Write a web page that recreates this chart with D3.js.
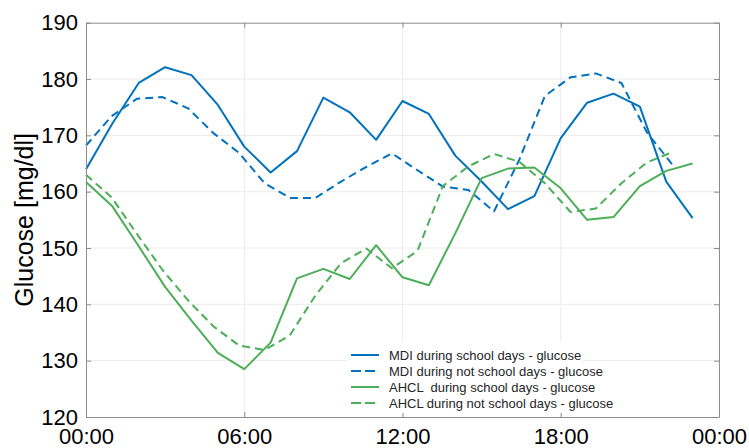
<!DOCTYPE html>
<html>
<head>
<meta charset="utf-8">
<script src="https://cdn.jsdelivr.net/npm/d3@7"></script>
<style>
    body { margin: 0; background: #fff; }
    svg { font-family: "Liberation Sans", Arial, Helvetica, sans-serif; }
</style>
</head>
<body>
<div id="chart"></div>
<script>
// hour of day for the school-day series
const hours = [0, 1, 2, 3, 4, 5, 6, 7, 8, 9, 10, 11, 12, 13, 14, 15, 16, 17, 18, 19, 20, 21, 22, 23];
// the not-school-day series are sampled a little tighter
const hoursNotSchool = [0, 0.97, 1.93, 2.9, 3.87, 4.83, 5.8, 6.77, 7.73, 8.7, 9.67, 10.63,
    11.6, 12.57, 13.53, 14.5, 15.47, 16.43, 17.4, 18.37, 19.33, 20.3, 21.27, 22.23];

const mdiSchool = [164.0, 172.1, 179.3, 182.1, 180.7, 175.4, 168.0, 163.4, 167.2, 176.7, 174.1, 169.2,
    176.1, 173.8, 166.4, 161.8, 156.9, 159.2, 169.5, 175.8, 177.4, 175.1, 161.8, 155.3];
const mdiNotSchool = [168.2, 173.4, 176.5, 176.8, 174.8, 170.4, 166.9, 161.5, 158.9, 158.9, 161.8, 164.4,
    166.8, 163.8, 160.9, 160.3, 156.5, 165.7, 177.0, 180.3, 181.0, 179.3, 170.5, 164.8];
const ahclSchool = [161.7, 157.4, 150.3, 143.1, 137.1, 131.4, 128.5, 133.2, 144.6, 146.3, 144.5, 150.5,
    144.8, 143.4, 152.6, 162.4, 164.1, 164.3, 160.6, 155.0, 155.5, 161.0, 163.7, 165.0];
const ahclNotSchool = [163.0, 159.0, 152.5, 146.1, 140.7, 136.1, 132.7, 131.9, 134.5, 141.6, 147.3, 149.9,
    146.4, 149.5, 161.0, 164.5, 166.7, 165.3, 161.5, 156.4, 157.0, 161.5, 165.2, 167.0];

const seriesNames = [
    "MDI during school days - glucose",
    "MDI during not school days - glucose",
    "AHCL  during school days - glucose",
    "AHCL during not school days - glucose"
];

const xTicks = [0, 6, 12, 18, 24];
const xTickLabels = ["00:00", "06:00", "12:00", "18:00", "00:00"];
const yTicks = [120, 130, 140, 150, 160, 170, 180, 190];
const yLabel = "Glucose [mg/dl]";

let width = 749, height = 448;
let margin = {top: 22.7, right: 30, bottom: 31, left: 86};
let blue = "#0072bd", green = "#4cae57";
let axisColor = "#8c8c8c", gridColor = "#ebebeb";

let series = [
    {name: seriesNames[0], t: hours, v: mdiSchool, color: blue, dash: null},
    {name: seriesNames[1], t: hoursNotSchool, v: mdiNotSchool, color: blue, dash: "8,5"},
    {name: seriesNames[2], t: hours, v: ahclSchool, color: green, dash: null},
    {name: seriesNames[3], t: hoursNotSchool, v: ahclNotSchool, color: green, dash: "8,5"}
];

let svg = d3.select("#chart").append("svg")
    .attr("width", width)
    .attr("height", height);

let x = d3.scaleLinear().domain([0, 24]).range([margin.left, width - margin.right]);
let y = d3.scaleLinear().domain([120, 190]).range([height - margin.bottom, margin.top]);

/* grid */
let grid = svg.append("g").attr("class", "grid");
grid.selectAll(".vgrid")
    .data(xTicks.slice(1, -1)).enter()
    .append("line")
    .attr("x1", d => x(d)).attr("x2", d => x(d))
    .attr("y1", y(120)).attr("y2", y(190))
    .attr("stroke", gridColor).attr("stroke-width", 1);
grid.selectAll(".hgrid")
    .data(yTicks.slice(1, -1)).enter()
    .append("line")
    .attr("x1", x(0)).attr("x2", x(24))
    .attr("y1", d => y(d)).attr("y2", d => y(d))
    .attr("stroke", gridColor).attr("stroke-width", 1);

/* lines */
let line = d3.line()
    .x(d => x(d[0]))
    .y(d => y(d[1]));

svg.append("g").attr("class", "lines")
    .selectAll("path")
    .data(series).enter()
    .append("path")
    .attr("d", s => line(s.t.map((t, i) => [t, s.v[i]])))
    .attr("fill", "none")
    .attr("stroke", s => s.color)
    .attr("stroke-width", 2)
    .attr("stroke-linejoin", "round")
    .attr("stroke-dasharray", s => s.dash);

/* axes: ticks point inward */
let styleAxis = g => {
    g.select(".domain").attr("stroke", axisColor);
    g.selectAll(".tick line").attr("stroke", axisColor);
    g.selectAll("text").attr("fill", "#000").style("font-size", "22px");
};

svg.append("g")
    .attr("transform", `translate(0, ${y(120)})`)
    .call(d3.axisBottom(x).tickValues(xTicks).tickSizeInner(-5).tickSizeOuter(0)
        .tickPadding(11).tickFormat((d, i) => xTickLabels[i]))
    .call(styleAxis);

svg.append("g")
    .attr("transform", `translate(0, ${y(190)})`)
    .call(d3.axisTop(x).tickValues(xTicks).tickSizeInner(-5).tickSizeOuter(0).tickFormat(""))
    .call(styleAxis);

svg.append("g")
    .attr("transform", `translate(${x(0)}, 0)`)
    .call(d3.axisLeft(y).tickValues(yTicks).tickSizeInner(-5).tickSizeOuter(0).tickPadding(8))
    .call(styleAxis);

svg.append("g")
    .attr("transform", `translate(${x(24)}, 0)`)
    .call(d3.axisRight(y).tickValues(yTicks).tickSizeInner(-5).tickSizeOuter(0).tickFormat(""))
    .call(styleAxis);

svg.append("text")
    .attr("transform", `translate(33, ${(y(120) + y(190)) / 2}) rotate(-90)`)
    .attr("text-anchor", "middle")
    .style("font-size", "25px")
    .attr("fill", "#000")
    .text(yLabel);

/* legend */
let legend = svg.append("g").attr("class", "legend");
legend.append("rect")
    .attr("x", 347).attr("y", 341)
    .attr("width", 236).attr("height", 72)
    .attr("fill", "#fff");

let rows = legend.selectAll(".row")
    .data(series).enter()
    .append("g")
    .attr("transform", (d, i) => `translate(0, ${355 + i * 16})`);

rows.append("line")
    .attr("x1", 351).attr("x2", 379)
    .attr("y1", 0).attr("y2", 0)
    .attr("stroke", d => d.color)
    .attr("stroke-width", 2)
    .attr("stroke-dasharray", d => d.dash ? "10,4" : null);

rows.append("text")
    .attr("x", 389)
    .attr("y", 0)
    .attr("dy", "0.35em")
    .style("font-size", "13px")
    .style("white-space", "pre")
    .attr("fill", "#262626")
    .text(d => d.name);
</script>
</body>
</html>
